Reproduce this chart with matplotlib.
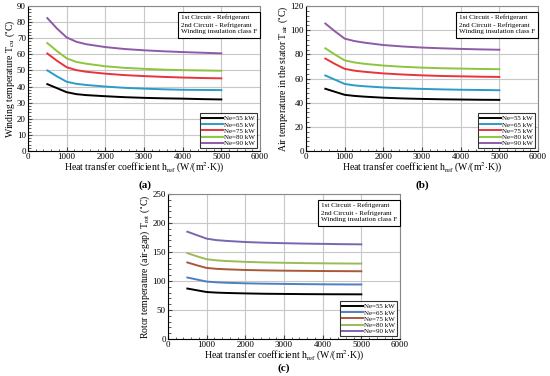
import matplotlib
matplotlib.use("Agg")
import matplotlib.pyplot as plt
from matplotlib.ticker import MultipleLocator, AutoMinorLocator

plt.rcParams['font.family'] = ['Liberation Serif', 'DejaVu Serif']
plt.rcParams['mathtext.fontset'] = 'stix'

# heat transfer coefficient h_ref (W/(m2 K))
h_ref = [500, 750, 1000, 1250, 1500, 2000, 2500, 3000, 3500, 4000, 4500, 5000]
labels = ['Ne=55 kW', 'Ne=65 kW', 'Ne=75 kW', 'Ne=80 kW', 'Ne=90 kW']

# (a) winding temperature
t_cu_55 = [41.5, 39.0, 36.5, 35.3, 34.7, 34.0, 33.4, 33.0, 32.7, 32.5, 32.2, 32.0]
t_cu_65 = [50.0, 46.3, 43.0, 41.7, 41.0, 40.0, 39.2, 38.7, 38.3, 38.0, 37.9, 37.8]
t_cu_75 = [60.5, 56.0, 52.0, 50.2, 49.2, 48.0, 47.1, 46.5, 46.0, 45.6, 45.3, 45.1]
t_cu_80 = [67.0, 62.0, 57.5, 55.3, 54.2, 52.6, 51.6, 51.0, 50.5, 50.2, 50.0, 49.8]
t_cu_90 = [82.5, 76.0, 70.5, 67.8, 66.3, 64.5, 63.3, 62.5, 61.9, 61.4, 61.0, 60.6]

# (b) air temperature in the stator
t_air_55 = [51.5, 49.0, 46.5, 45.6, 45.0, 44.1, 43.5, 43.1, 42.8, 42.6, 42.4, 42.3]
t_air_65 = [62.5, 59.0, 55.5, 54.3, 53.6, 52.6, 51.9, 51.4, 51.0, 50.7, 50.5, 50.3]
t_air_75 = [76.5, 72.0, 68.0, 66.5, 65.6, 64.2, 63.3, 62.6, 62.1, 61.8, 61.5, 61.3]
t_air_80 = [85.0, 79.8, 75.0, 73.3, 72.2, 70.7, 69.7, 69.0, 68.5, 68.2, 67.9, 67.7]
t_air_90 = [105.5, 99.0, 93.0, 91.0, 89.7, 87.7, 86.5, 85.6, 85.0, 84.5, 84.1, 83.8]

# (c) rotor temperature (air-gap)
t_rot_55 = [87.0, 84.0, 81.0, 80.0, 79.4, 78.6, 78.0, 77.7, 77.4, 77.2, 77.1, 77.0]
t_rot_65 = [106.0, 102.5, 99.0, 97.8, 97.0, 96.0, 95.4, 95.0, 94.6, 94.3, 94.1, 94.0]
t_rot_75 = [132.0, 127.0, 122.5, 121.0, 120.2, 119.0, 118.3, 117.8, 117.5, 117.2, 117.0, 116.8]
t_rot_80 = [148.0, 142.5, 137.5, 135.6, 134.5, 133.0, 132.0, 131.4, 130.9, 130.5, 130.2, 130.0]
t_rot_90 = [185.0, 179.0, 173.0, 170.5, 169.2, 167.2, 166.0, 165.2, 164.5, 164.0, 163.5, 163.2]

colors_ab = ['#000000', '#2b9cc8', '#e8353b', '#8cc63f', '#8e5aa8']
colors_c = ['#000000', '#4f7fbf', '#a8593a', '#9bbb59', '#7a66b0']

note = '1st Circuit - Refrigerant\n2nd Circuit - Refrigerant\nWinding insulation class F'
xlab = r'Heat transfer coefficient h$_{\mathrm{ref}}$ (W/(m$^{2}$$\cdot$K))'

fig = plt.figure(figsize=(5.5, 3.76), dpi=100)
W, H = 550, 376


def panel(l, t, series, colors, ylab, ymax, ystep, tag, tagx, tagy):
    ax = fig.add_axes([l / W, 1 - (t + 145) / H, 232 / W, 145 / H])
    for y, c, lab in zip(series, colors, labels):
        ax.plot(h_ref, y, color=c, lw=1.4, label=lab)
    ax.set_xlim(0, 6000)
    ax.set_ylim(0, ymax)
    ax.xaxis.set_major_locator(MultipleLocator(1000))
    ax.yaxis.set_major_locator(MultipleLocator(ystep))
    ax.xaxis.set_minor_locator(AutoMinorLocator(5))
    ax.yaxis.set_minor_locator(AutoMinorLocator(5))
    ax.grid(True, which='major', color='#c8c8c8', lw=0.8)
    ax.set_axisbelow(True)
    ax.tick_params(which='both', direction='in', labelsize=6.5, color='#444444', pad=1.5)
    ax.tick_params(which='major', length=3)
    ax.tick_params(which='minor', length=1.8)
    for s in ['top', 'right']:
        ax.spines[s].set_color('#888888')
    ax.set_xlabel(xlab, fontsize=7, labelpad=-0.5)
    ax.set_ylabel(ylab, fontsize=7, labelpad=0)
    leg = ax.legend(loc='lower right', fontsize=5, frameon=True, fancybox=False,
                    edgecolor='black', handlelength=3, borderpad=0.3,
                    labelspacing=0.05, handletextpad=0.2, borderaxespad=0.4)
    leg.get_frame().set_linewidth(0.8)
    ax.text(0.66, 0.94, note, transform=ax.transAxes, ha='left', va='top',
            fontsize=5.1, linespacing=1.4, multialignment='left',
            bbox=dict(boxstyle='square,pad=0.45', fc='white', ec='black', lw=0.8))
    fig.text(tagx / W, 1 - tagy / H, tag, ha='center', va='center',
             fontsize=8, fontweight='bold')
    return ax


panel(28, 6, [t_cu_55, t_cu_65, t_cu_75, t_cu_80, t_cu_90], colors_ab,
      r'Winding temperature T$_{\mathrm{cu}}$ ($^{\circ}$C)', 90, 10, '(a)', 145, 185)
panel(306, 6, [t_air_55, t_air_65, t_air_75, t_air_80, t_air_90], colors_ab,
      r'Air temperature in the stator T$_{\mathrm{air}}$ ($^{\circ}$C)', 120, 20, '(b)', 422, 185)
panel(168, 194, [t_rot_55, t_rot_65, t_rot_75, t_rot_80, t_rot_90], colors_c,
      r'Rotor temperature (air-gap) T$_{\mathrm{rot}}$ ($^{\circ}$C)', 250, 50, '(c)', 284, 368)

fig.savefig('out.png', dpi=100)
